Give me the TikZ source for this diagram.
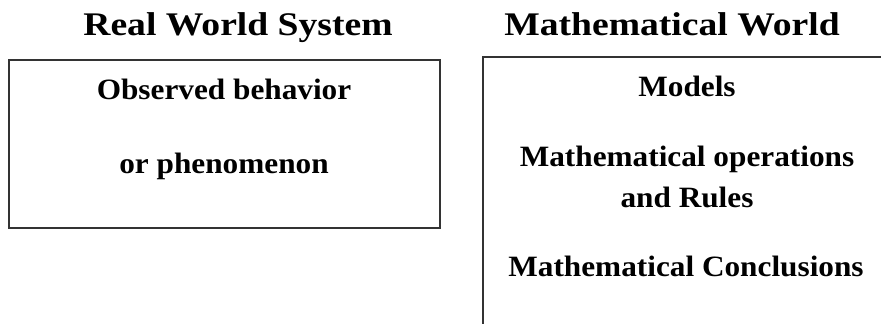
\documentclass[tikz,border=0pt]{standalone}
\usepackage{fontspec}
\setmainfont{Liberation Serif}
\newfontfamily\titlefont[FakeStretch=1.14]{Liberation Serif}
\newfontfamily\bodyfont[FakeStretch=1.06]{Liberation Serif}
\begin{document}
\begin{tikzpicture}[x=1pt,y=-1pt,
  title/.style={font=\titlefont\fontsize{33}{38}\selectfont\bfseries, anchor=base, inner sep=0pt},
  body/.style={font=\bodyfont\fontsize{29.5}{34}\selectfont\bfseries, anchor=base, inner sep=0pt},
  frame/.style={draw=black!80, line width=1.6pt, fill=none, inner sep=0pt, rectangle}]
\useasboundingbox (0,0) rectangle (881,324);
\clip (0,0) rectangle (881,324);
\node[frame, minimum width=431pt, minimum height=168pt] (realbox) at (224.5,144) {};
\node[frame, minimum width=416pt, minimum height=282pt] (mathbox) at (691,198) {};
\node[title] (realtitle) at (238,35) {Real World System};
\node[title] (mathtitle) at (672,35) {Mathematical World};
\node[body] (obs) at (224,99) {Observed behavior};
\node[body] (phen) at (224,173) {or phenomenon};
\node[body] (models) at (687,96) {Models};
\node[body] (ops) at (687,166) {Mathematical operations};
\node[body] (rules) at (687,207) {and Rules};
\node[body] (concl) at (686,276) {Mathematical Conclusions};
\end{tikzpicture}
\end{document}
